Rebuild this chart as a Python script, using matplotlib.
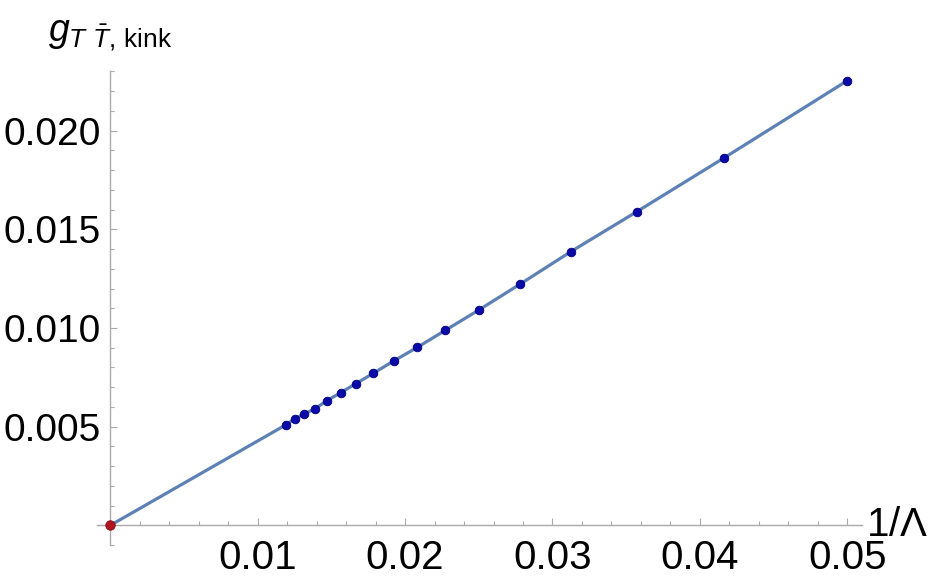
import matplotlib
matplotlib.use("Agg")
import matplotlib.pyplot as plt
from matplotlib.ticker import MultipleLocator, FixedLocator

# data
lam = [20, 24, 28, 32, 36, 40, 44, 48, 52, 56, 60, 64, 68, 72, 76, 80, 84]
inv_lam = [1.0 / l for l in lam]
g_kink = [0.02253, 0.01863, 0.01589, 0.01387, 0.01221, 0.01091, 0.00988,
          0.00902, 0.00833, 0.00771, 0.00718, 0.00672, 0.00632, 0.00591,
          0.00564, 0.00539, 0.00509]
# extrapolated value at 1/Lambda -> 0
x_limit = [0.0]
g_limit = [0.0]

x_ticks = [0.01, 0.02, 0.03, 0.04, 0.05]
x_ticklabels = ["0.01", "0.02", "0.03", "0.04", "0.05"]
y_ticks = [0.005, 0.010, 0.015, 0.020]
y_ticklabels = ["0.005", "0.010", "0.015", "0.020"]

line_color = "#5E81B5"
point_color = "#0A0AA8"
limit_color = "#B0141E"
axis_color = "#aaaaaa"

plt.rcParams["font.family"] = ["Liberation Sans", "DejaVu Sans"]
plt.rcParams["mathtext.fontset"] = "custom"
plt.rcParams["mathtext.rm"] = "Liberation Sans"
plt.rcParams["mathtext.it"] = "Liberation Sans:italic"

fig = plt.figure(figsize=(9.41, 5.85), dpi=100)
ax = fig.add_axes([97 / 941, (585 - 545.1) / 585, 765 / 941, 473.7 / 585])

# fitted line through the origin and the data
ax.plot(x_limit + inv_lam[::-1], g_limit + g_kink[::-1], "-",
        color=line_color, lw=2.3, zorder=2, solid_capstyle="round")
ax.plot(inv_lam, g_kink, "o", color=point_color, ms=6.2,
        mec="#00007a", mew=0.6, zorder=3)
ax.plot(x_limit, g_limit, "o", color=limit_color, ms=6.8,
        mec="#8a0a10", mew=0.6, zorder=4, clip_on=False)

ax.set_xlim(-0.0009, 0.051)
ax.set_ylim(-0.001, 0.023)

# Mathematica-style axes crossing at the origin
for side in ["top", "right"]:
    ax.spines[side].set_visible(False)
ax.spines["left"].set_position(("data", 0))
ax.spines["bottom"].set_position(("data", 0))
for side in ["left", "bottom"]:
    ax.spines[side].set_color(axis_color)
    ax.spines[side].set_linewidth(1.0)

ax.xaxis.set_major_locator(FixedLocator(x_ticks))
ax.set_xticklabels(x_ticklabels)
ax.xaxis.set_minor_locator(MultipleLocator(0.002))
ax.yaxis.set_major_locator(FixedLocator(y_ticks))
ax.set_yticklabels(y_ticklabels)
ax.yaxis.set_minor_locator(MultipleLocator(0.001))

ax.tick_params(which="major", direction="in", length=5, width=0.8,
               color=axis_color, labelcolor="black")
ax.tick_params(which="minor", direction="in", length=3, width=0.8,
               color=axis_color)
ax.tick_params(axis="x", which="major", pad=10, labelsize=29)
ax.tick_params(axis="y", which="major", pad=7, labelsize=28)

ax.text(0.0513, 0.0, r"1/$\Lambda$", fontsize=29, ha="left", va="center",
        transform=ax.transData, clip_on=False)
fig.text(110 / 941, 1 - 35 / 585, r"$g_{T\ \bar{T},\,\mathrm{kink}}$",
         fontsize=27, ha="center", va="center")

fig.savefig("out.png", dpi=100)
